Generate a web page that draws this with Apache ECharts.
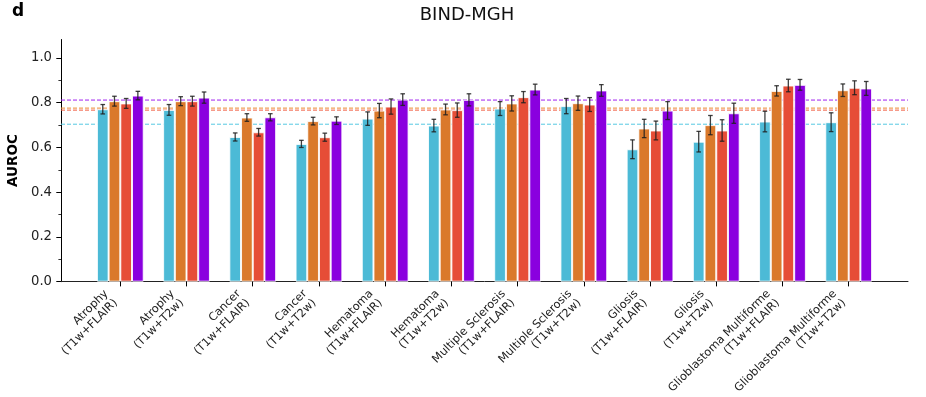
<!DOCTYPE html>
<html>
<head>
<meta charset="utf-8">
<script src="https://cdn.jsdelivr.net/npm/echarts@6/dist/echarts.min.js"></script>
<style>html,body{margin:0;padding:0;background:#fff}#c{width:926px;height:397px}</style>
</head>
<body>
<div id="c"></div>
<script>
const categories = [
  'Atrophy\n(T1w+FLAIR)', 'Atrophy\n(T1w+T2w)',
  'Cancer\n(T1w+FLAIR)', 'Cancer\n(T1w+T2w)',
  'Hematoma\n(T1w+FLAIR)', 'Hematoma\n(T1w+T2w)',
  'Multiple Sclerosis\n(T1w+FLAIR)', 'Multiple Sclerosis\n(T1w+T2w)',
  'Gliosis\n(T1w+FLAIR)', 'Gliosis\n(T1w+T2w)',
  'Glioblastoma Multiforme\n(T1w+FLAIR)', 'Glioblastoma Multiforme\n(T1w+T2w)'
];
const seriesNames = ['Model 1', 'Model 2', 'Model 3', 'Model 4'];
const valuesCyan   = [0.771,0.768,0.647,0.616,0.729,0.698,0.774,0.785,0.592,0.626,0.716,0.713];
const errCyan      = [0.021,0.024,0.018,0.016,0.030,0.028,0.031,0.034,0.042,0.046,0.046,0.042];
const valuesOrange = [0.807,0.807,0.734,0.718,0.765,0.770,0.797,0.798,0.685,0.700,0.853,0.856];
const errOrange    = [0.022,0.020,0.017,0.017,0.032,0.024,0.034,0.032,0.041,0.043,0.023,0.028];
const valuesRed    = [0.797,0.807,0.668,0.646,0.783,0.767,0.825,0.792,0.676,0.676,0.877,0.867];
const errRed       = [0.022,0.022,0.017,0.018,0.034,0.032,0.025,0.031,0.042,0.048,0.028,0.031];
const valuesPurple = [0.832,0.823,0.735,0.720,0.814,0.813,0.859,0.855,0.765,0.753,0.880,0.864];
const errPurple    = [0.019,0.025,0.016,0.017,0.026,0.027,0.024,0.026,0.040,0.045,0.024,0.031];
const meanLines    = [0.704, 0.776, 0.767, 0.812];
const yMajorTicks  = [0, 0.2, 0.4, 0.6, 0.8, 1.0];
const yMinorTicks  = [0.1, 0.3, 0.5, 0.7, 0.9];

const colors = ['#4cbad6', '#da792b', '#e64d37', '#8a00df'];
const lineColors = ['#55c8e2', '#ec8a35', '#f05a3e', '#a020f0'];
const allVals = [valuesCyan, valuesOrange, valuesRed, valuesPurple];
const allErrs = [errCyan, errOrange, errRed, errPurple];
const FONT = 'DejaVu Sans';
const YMAX = 1.0827;
const BW = 11.7;

const series = [];
meanLines.forEach((v, i) => {
  series.push({
    type: 'line', xAxisIndex: 0, yAxisIndex: 0, z: 1, silent: true,
    symbol: 'none', showSymbol: false,
    lineStyle: {color: lineColors[i], type: [4, 2], width: 1},
    itemStyle: {color: lineColors[i]},
    data: [[0, v], [1, v]]
  });
});
allVals.forEach((vals, s) => {
  series.push({
    type: 'bar', name: seriesNames[s], xAxisIndex: 1, yAxisIndex: 2, z: 3,
    barWidth: BW, barGap: '0%',
    itemStyle: {color: colors[s], borderColor: 'rgba(255,255,255,0.85)', borderWidth: 1},
    data: vals
  });
});
allVals.forEach((vals, s) => {
  series.push({
    type: 'custom', xAxisIndex: 1, yAxisIndex: 2, z: 5, silent: true,
    data: vals.map((v, i) => [i, v, allErrs[s][i]]),
    encode: {x: 0, y: 1},
    renderItem: function (params, api) {
      const idx = api.value(0), v = api.value(1), e = api.value(2);
      const c = api.coord([idx, v]);
      const x = c[0] + (s - 1.5) * BW;
      const yHi = api.coord([idx, v + e])[1];
      const yLo = api.coord([idx, v - e])[1];
      const st = {stroke: 'rgba(30,30,30,0.85)', lineWidth: 1.3};
      return {
        type: 'group',
        children: [
          {type: 'line', shape: {x1: x, y1: yHi, x2: x, y2: yLo}, style: st},
          {type: 'line', shape: {x1: x - 2.3, y1: yHi, x2: x + 2.3, y2: yHi}, style: st},
          {type: 'line', shape: {x1: x - 2.3, y1: yLo, x2: x + 2.3, y2: yLo}, style: st}
        ]
      };
    }
  });
});

const chart = echarts.init(document.getElementById('c'));
chart.setOption({
  animation: false,
  backgroundColor: '#fff',
  graphic: [
    {type: 'text', left: 12, top: 3, style: {text: 'd', font: 'bold 17px "DejaVu Sans"', fill: '#000'}},
    {type: 'text', x: 467, y: 15.5, style: {text: 'BIND-MGH', font: '18px "DejaVu Sans"', fill: '#111', align: 'center', verticalAlign: 'middle'}}
  ],
  grid: [
    {left: 61, right: 18, top: 39.5, bottom: 115.3, containLabel: false, outerBoundsMode: 'none'},
    {left: 87.2, right: 44.2, top: 39.5, bottom: 115.3, containLabel: false, outerBoundsMode: 'none'}
  ],
  xAxis: [
    {type: 'value', gridIndex: 0, min: 0, max: 1, axisLine: {show: true, onZero: false, lineStyle: {color: '#222', width: 1}},
     axisTick: {show: false}, axisLabel: {show: false}, splitLine: {show: false}},
    {type: 'category', gridIndex: 1, data: categories,
     axisLine: {show: false},
     axisTick: {show: true, alignWithLabel: true, length: 4.7, lineStyle: {color: '#000', width: 1}},
     axisLabel: {interval: 0, rotate: 45, align: 'right', verticalAlign: 'bottom', margin: 24,
                 fontFamily: FONT, fontSize: 11.3, color: '#222', lineHeight: 13},
     splitLine: {show: false}}
  ],
  yAxis: [
    {type: 'value', gridIndex: 0, min: 0, max: YMAX,
     name: 'AUROC', nameLocation: 'middle', nameGap: 39,
     nameTextStyle: {fontFamily: FONT, fontWeight: 'bold', fontSize: 13.5, color: '#000'},
     axisLine: {show: true, lineStyle: {color: '#000', width: 1}},
     axisTick: {show: true, length: 4.7, customValues: yMajorTicks, lineStyle: {color: '#000', width: 1}},
     axisLabel: {customValues: yMajorTicks, formatter: v => v.toFixed(1), margin: 9,
                 fontFamily: FONT, fontSize: 13.2, color: '#222'},
     splitLine: {show: false}},
    {type: 'value', gridIndex: 0, min: 0, max: YMAX, position: 'left',
     axisLine: {show: false},
     axisTick: {show: true, length: 2.6, customValues: yMinorTicks, lineStyle: {color: '#000', width: 0.8}},
     axisLabel: {show: false}, splitLine: {show: false}},
    {type: 'value', gridIndex: 1, min: 0, max: YMAX, show: false, splitLine: {show: false}}
  ],
  series: series
});
</script>
</body>
</html>
